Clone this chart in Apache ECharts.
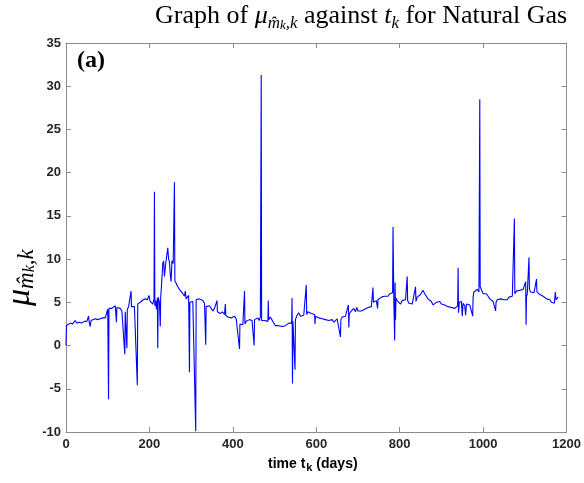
<!DOCTYPE html>
<html>
<head>
<meta charset="utf-8">
<script src="https://cdn.jsdelivr.net/npm/echarts@6/dist/echarts.min.js"></script>
<style>
  html, body { margin: 0; padding: 0; background: #fff; }
  #chart { width: 584px; height: 483px; }
</style>
</head>
<body>
<div id="chart"></div>
<script>
// time t_k (days)
var days = [
  0, 1, 4, 10, 16, 22, 26, 32, 38, 44, 50, 54, 56, 58, 60, 64, 70, 76, 82, 88, 94, 98,
  100, 102, 103, 106, 110, 114, 118, 121, 122, 126, 130, 134, 138, 141, 142, 144, 146, 147,
  150, 153, 156, 157, 160, 164, 168, 171, 172, 176, 180, 185, 190, 195, 199, 201, 205, 208,
  209, 211, 212, 213, 215, 217, 219, 220, 221, 224, 226, 227, 229, 232, 234, 236, 238, 241,
  244, 246, 248, 250, 252, 254, 257, 260, 261, 264, 268, 272, 276, 280, 284, 286, 288, 292,
  294, 296, 297, 300, 304, 308, 311, 312, 316, 320, 324, 328, 332, 335, 336, 340, 344, 348,
  352, 356, 360, 362, 363, 366, 370, 375, 380, 382, 383, 388, 392, 396, 400, 404, 408, 412,
  416, 417, 420, 424, 428, 429, 432, 436, 440, 444, 446, 451, 452, 456, 460, 463, 466, 468,
  469, 472, 476, 480, 484, 485, 486, 490, 494, 498, 502, 506, 510, 514, 518, 522, 526, 530,
  534, 538, 541, 542, 543, 544, 546, 549, 550, 554, 558, 562, 566, 570, 574, 576, 577, 580,
  584, 588, 592, 596, 597, 598, 602, 606, 610, 614, 618, 622, 626, 630, 634, 638, 642, 646,
  650, 654, 658, 659, 662, 666, 670, 674, 677, 678, 679, 682, 686, 690, 694, 697, 700, 704,
  708, 712, 716, 720, 724, 728, 732, 735, 736, 737, 740, 744, 747, 748, 752, 756, 760, 764,
  768, 772, 776, 780, 783, 784, 785, 786, 788, 789, 790, 791, 794, 798, 802, 806, 810, 814,
  818, 819, 822, 826, 830, 834, 838, 839, 842, 846, 850, 854, 856, 860, 864, 868, 872, 876,
  880, 884, 888, 892, 896, 900, 904, 908, 912, 916, 920, 924, 928, 932, 936, 939, 940, 941,
  943, 946, 948, 950, 952, 956, 958, 960, 964, 968, 972, 975, 976, 978, 982, 986, 990, 992,
  993, 994, 996, 1000, 1004, 1008, 1012, 1016, 1020, 1024, 1028, 1030, 1031, 1034, 1038, 1042,
  1046, 1050, 1054, 1058, 1062, 1066, 1070, 1074, 1075, 1076, 1080, 1084, 1088, 1092, 1096, 1100,
  1102, 1103, 1104, 1106, 1109, 1110, 1111, 1114, 1118, 1122, 1126, 1128, 1129, 1132, 1136, 1140,
  1144, 1148, 1152, 1156, 1160, 1164, 1168, 1171, 1173, 1175, 1178, 1180
];

// mu_{m_k,k}
var muValues = [
  0.0, 2.3, 2.5, 2.6, 2.5, 2.9, 2.6, 2.7, 2.6, 2.8, 2.8, 3.4, 2.6, 2.2, 2.9, 3.0, 3.1, 3.0, 3.1, 3.2, 3.2, 3.4,
  4.2, -6.2, 4.3, 4.4, 4.3, 4.5, 4.6, 2.7, 4.4, 4.5, 4.3, 4.0, 3.9, -1.0, 3.9, 3.8, -0.3, 4.2,
  4.5, 4.4, 6.3, 4.5, 4.6, 4.5, 4.6, -4.6, 4.8, 5.0, 5.1, 5.3, 5.4, 5.3, 5.8, 5.2, 5.3, 4.8,
  4.6, 5.4, 17.8, 4.6, 5.2, 4.2, 5.5, -0.3, 5.6, 5.0, 2.2, 5.5, 7.0, 9.5, 9.8, 8.0, 9.0, 10.2,
  11.3, 10.0, 9.7, 8.2, 7.4, 9.8, 9.5, 18.9, 7.5, 7.2, 6.8, 6.5, 6.3, 6.0, 5.7, 6.3, 5.4, 5.5,
  5.8, -3.1, 5.0, 5.0, 5.1, 5.2, -9.9, 5.3, 5.5, 5.4, 5.3, 5.2, 4.9, 0.1, 4.5, 4.4, 4.6, 4.3,
  4.0, 4.3, 4.1, 5.2, 3.9, 3.8, 3.7, 3.9, 3.6, 4.8, 3.5, 3.3, 3.4, 3.2, 3.3, 3.4, 3.1, 2.9,
  -0.4, 2.5, 2.6, 2.4, 6.3, 2.5, 2.8, 2.7, 3.0, 3.2, 2.9, 0.0, 3.0, 3.1, 3.2, 2.9, 3.3, 31.3,
  2.9, 2.8, 2.9, 2.7, 2.8, 5.2, 3.0, 3.3, 3.2, 2.6, 2.3, 2.2, 2.3, 2.1, 2.2, 2.0, 2.3, 2.4,
  2.6, 2.5, 2.6, 5.5, -4.4, 2.8, 2.6, -2.8, 3.0, 3.5, 3.8, 3.4, 3.6, 3.5, 3.3, 7.0, 3.6, 3.9,
  3.8, 3.7, 3.8, 3.6, 2.5, 3.4, 3.3, 3.2, 3.3, 3.1, 3.2, 3.0, 2.9, 2.9, 2.8, 3.0, 2.7, 2.9,
  3.1, 2.9, 1.0, 3.0, 3.3, 3.2, 3.4, 3.3, 4.7, 2.1, 3.6, 3.9, 4.0, 4.3, 3.9, 4.4, 4.0, 3.8,
  4.0, 3.9, 4.2, 4.1, 4.4, 4.3, 4.5, 4.7, 6.7, 5.0, 5.1, 5.2, 4.3, 5.3, 5.4, 5.6, 5.5, 5.7,
  5.8, 5.7, 6.0, 5.9, 6.1, 13.7, 9.3, 5.1, 0.6, 7.3, 3.0, 5.5, 5.2, 5.1, 4.8, 5.2, 5.0, 5.3,
  8.0, 5.2, 4.9, 5.1, 4.8, 4.9, 6.8, 5.1, 5.6, 5.7, 5.9, 6.1, 6.4, 6.0, 5.8, 5.4, 5.3, 5.1,
  4.7, 4.9, 5.0, 4.9, 5.1, 4.8, 4.9, 4.7, 4.6, 4.5, 4.6, 4.4, 4.5, 4.3, 4.4, 4.6, 9.0, 3.8,
  5.0, 4.9, 5.1, 3.4, 4.9, 4.6, 3.5, 4.8, 4.9, 4.7, 4.5, 3.4, 5.6, 6.2, 6.3, 6.5, 6.2, 28.5,
  6.8, 7.0, 6.6, 6.0, 5.8, 6.0, 5.7, 5.4, 5.2, 5.1, 5.0, 4.0, 5.0, 5.3, 5.1, 5.4,
  5.2, 5.3, 5.5, 5.3, 5.6, 5.5, 5.7, 5.8, 14.7, 6.0, 6.3, 6.1, 6.4, 6.2, 6.5, 6.6,
  7.4, 2.4, 5.6, 6.1, 6.3, 10.2, 6.5, 6.2, 6.0, 6.1, 6.3, 7.7, 6.2, 6.0, 5.9, 6.1,
  5.7, 5.5, 5.4, 5.2, 5.3, 5.0, 4.8, 4.9, 6.2, 5.3, 5.5, 5.6
];

var xTicks = [0, 200, 400, 600, 800, 1000, 1200];
var yTicks = [-10, -5, 0, 5, 10, 15, 20, 25, 30, 35];

var chart = echarts.init(document.getElementById('chart'));

var seriesData = [];
for (var i = 0; i < days.length; i++) {
    seriesData.push([days[i], muValues[i]]);
}

var axisGray = '#8c8c8c';
var labelStyle = {
    color: '#262626',
    fontFamily: 'Liberation Sans',
    fontWeight: 'bold',
    fontSize: 13,
    formatter: function (v) { return String(v); }
};

function boxAxis(pos, min, max, interval, showLabel, margin) {
    return {
        type: 'value',
        position: pos,
        min: min,
        max: max,
        interval: interval,
        splitLine: { show: false },
        axisLine: { show: true, onZero: false, lineStyle: { color: axisGray, width: 1 } },
        axisTick: { show: true, inside: true, length: 5, lineStyle: { color: axisGray } },
        axisLabel: Object.assign({ show: showLabel, margin: margin }, labelStyle)
    };
}

var serif = 'Liberation Serif';

var option = {
    animation: false,
    grid: { left: 66, right: 17, top: 43, bottom: 51 },
    xAxis: [
        boxAxis('bottom', xTicks[0], xTicks[xTicks.length - 1], 200, true, 6),
        boxAxis('top', xTicks[0], xTicks[xTicks.length - 1], 200, false, 6)
    ],
    yAxis: [
        boxAxis('left', yTicks[0], yTicks[yTicks.length - 1], 5, true, 5),
        boxAxis('right', yTicks[0], yTicks[yTicks.length - 1], 5, false, 5)
    ],
    series: [{
        type: 'line',
        data: seriesData,
        showSymbol: false,
        symbol: 'none',
        lineStyle: { color: '#0000ff', width: 1.1 }
    }],
    graphic: [
        {
            // title
            type: 'text',
            left: 155,
            top: 3,
            style: {
                text: '{n|Graph of }{mu|μ}{s|m̂}{ss|k}{s|,k}{n| against }{mu|t}{s|k}{n| for Natural Gas}',
                rich: {
                    n: { fontFamily: serif, fontSize: 26, color: '#000', lineHeight: 32 },
                    mu: { fontFamily: serif, fontStyle: 'italic', fontSize: 26, color: '#000', lineHeight: 32 },
                    s: { fontFamily: serif, fontStyle: 'italic', fontSize: 17, color: '#000', verticalAlign: 'bottom', lineHeight: 22, padding: [7, 0, 0, 0] },
                    ss: { fontFamily: serif, fontStyle: 'italic', fontSize: 13, color: '#000', verticalAlign: 'bottom', lineHeight: 18, padding: [9, 0, 0, 0] }
                }
            }
        },
        {
            // panel tag
            type: 'text',
            left: 77,
            top: 49,
            style: {
                text: '(a)',
                fontFamily: serif,
                fontWeight: 'bold',
                fontSize: 24,
                fill: '#000'
            }
        },
        {
            // y axis label
            type: 'text',
            x: 2,
            y: 306,
            rotation: Math.PI / 2,
            style: {
                text: '{mu|μ}{s|m̂}{ss|k}{s|,k}',
                rich: {
                    mu: { fontFamily: serif, fontStyle: 'italic', fontSize: 34, color: '#000', lineHeight: 36 },
                    s: { fontFamily: serif, fontStyle: 'italic', fontSize: 23, color: '#000', verticalAlign: 'bottom', lineHeight: 26, padding: [8, 0, 0, 0] },
                    ss: { fontFamily: serif, fontStyle: 'italic', fontSize: 16, color: '#000', verticalAlign: 'bottom', lineHeight: 20, padding: [11, 0, 0, 0] }
                }
            }
        },
        {
            // x axis label
            type: 'text',
            left: 268,
            top: 456,
            style: {
                text: '{n|time t}{s|k}{n| (days)}',
                rich: {
                    n: { fontFamily: 'Liberation Sans', fontWeight: 'bold', fontSize: 14, color: '#000', lineHeight: 18 },
                    s: { fontFamily: 'Liberation Sans', fontWeight: 'bold', fontSize: 11, color: '#000', verticalAlign: 'bottom', lineHeight: 14, padding: [6, 0, 0, 1] }
                }
            }
        }
    ]
};

chart.setOption(option);
</script>
</body>
</html>
